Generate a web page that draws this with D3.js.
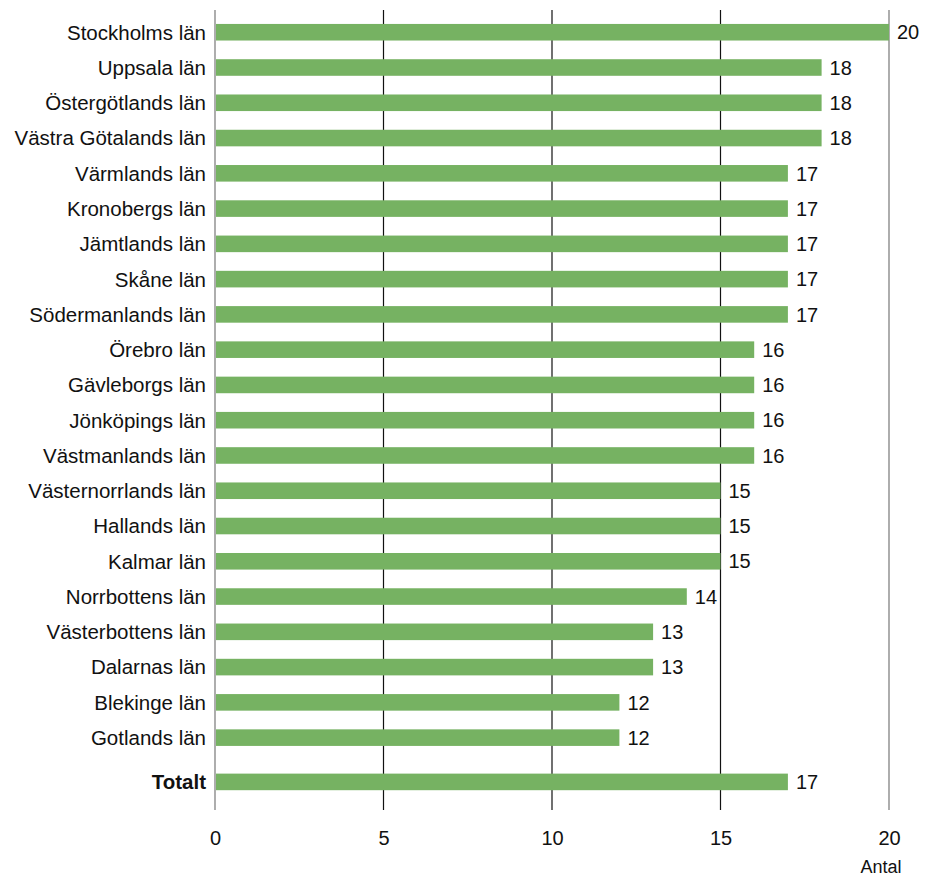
<!DOCTYPE html>
<html>
<head>
<meta charset="utf-8">
<script src="https://cdn.jsdelivr.net/npm/d3@7"></script>
<style>
  body { margin: 0; background: #fff; }
  text { font-family: "Liberation Sans", Arial, sans-serif; fill: #111; }
</style>
</head>
<body>
<div id="chart"></div>
<script>
// data
const regions = [
  "Stockholms län", "Uppsala län", "Östergötlands län", "Västra Götalands län",
  "Värmlands län", "Kronobergs län", "Jämtlands län", "Skåne län",
  "Södermanlands län", "Örebro län", "Gävleborgs län", "Jönköpings län",
  "Västmanlands län", "Västernorrlands län", "Hallands län", "Kalmar län",
  "Norrbottens län", "Västerbottens län", "Dalarnas län", "Blekinge län",
  "Gotlands län"
];
const values = [20, 18, 18, 18, 17, 17, 17, 17, 17, 16, 16, 16, 16, 15, 15, 15, 14, 13, 13, 12, 12];
const totalLabel = "Totalt";
const totalValue = 17;
const xTicks = [0, 5, 10, 15, 20];
const xTitle = "Antal";

const width = 932, height = 879;
const plotLeft = 215, plotRight = 889;
const plotTop = 14.6, step = 35.27;
const totalGap = 9;
const gridTop = 10, gridBottom = 810;
const green = "#76b262";

const svg = d3.select("#chart").append("svg")
  .attr("width", width)
  .attr("height", height);

const x = d3.scaleLinear().domain([0, 20]).range([plotLeft, plotRight]);

const y = d3.scaleBand()
  .domain(regions.concat([totalLabel]))
  .range([plotTop, plotTop + step * (regions.length + 1)])
  .paddingInner(0.53)
  .paddingOuter(0.265);

function yPos(name) {
  return y(name) + (name === totalLabel ? totalGap : 0);
}

const rows = regions.map((r, i) => ({ name: r, value: values[i] }));
rows.push({ name: totalLabel, value: totalValue, total: true });

// gridlines
svg.append("g")
  .selectAll("line")
  .data(xTicks)
  .join("line")
  .attr("x1", d => x(d))
  .attr("x2", d => x(d))
  .attr("y1", gridTop)
  .attr("y2", gridBottom)
  .attr("stroke", d => (d === 0 || d === 20) ? "#777" : "#111")
  .attr("stroke-width", 1.2);

// bars
svg.append("g")
  .selectAll("rect")
  .data(rows)
  .join("rect")
  .attr("x", x(0) + 1)
  .attr("y", d => yPos(d.name))
  .attr("width", d => x(d.value) - x(0) - 1)
  .attr("height", y.bandwidth())
  .attr("fill", green);

// category labels
svg.append("g")
  .selectAll("text")
  .data(rows)
  .join("text")
  .attr("x", plotLeft - 9)
  .attr("y", d => yPos(d.name) + y.bandwidth() / 2)
  .attr("dy", "0.36em")
  .attr("text-anchor", "end")
  .attr("font-size", "20.5px")
  .attr("font-weight", d => d.total ? "bold" : "normal")
  .text(d => d.name);

// value labels
svg.append("g")
  .selectAll("text")
  .data(rows)
  .join("text")
  .attr("x", d => x(d.value) + 8)
  .attr("y", d => yPos(d.name) + y.bandwidth() / 2)
  .attr("dy", "0.36em")
  .attr("font-size", "20px")
  .text(d => d.value);

// x axis tick labels
const axis = d3.axisBottom(x).tickValues(xTicks).tickSize(0).tickPadding(0);
const ax = svg.append("g")
  .attr("transform", `translate(0, ${gridBottom + 21})`)
  .call(axis);
ax.select(".domain").remove();
ax.selectAll("text")
  .attr("font-size", "20px")
  .attr("font-family", "Liberation Sans, Arial, sans-serif")
  .attr("fill", "#111");

svg.append("text")
  .attr("x", x(20) - 8)
  .attr("y", 873)
  .attr("text-anchor", "middle")
  .attr("font-size", "18px")
  .text(xTitle);
</script>
</body>
</html>
